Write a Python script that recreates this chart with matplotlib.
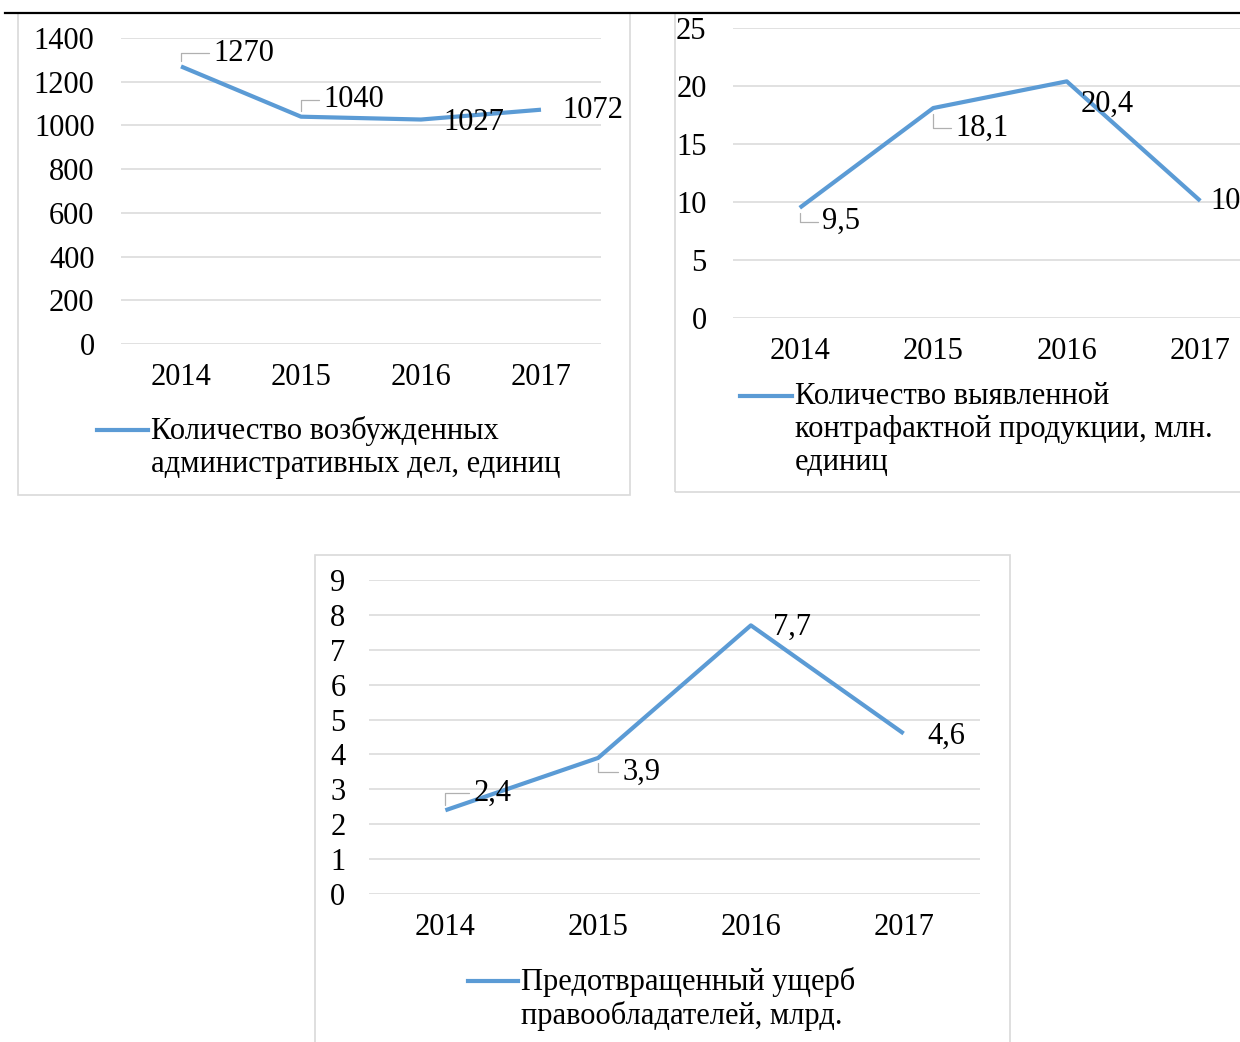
import matplotlib
matplotlib.use("Agg")
import matplotlib.pyplot as plt
from matplotlib.lines import Line2D
from matplotlib.patches import Rectangle

plt.rcParams['font.family'] = ['Liberation Serif', 'DejaVu Serif']

years = ["2014", "2015", "2016", "2017"]
cases = [1270, 1040, 1027, 1072]
cases_labels = ["1270", "1040", "1027", "1072"]
counterfeit = [9.5, 18.1, 20.4, 10.1]
counterfeit_labels = ["9,5", "18,1", "20,4", "10,1"]
damage = [2.4, 3.9, 7.7, 4.6]
damage_labels = ["2,4", "3,9", "7,7", "4,6"]

legend1 = "Количество возбужденных\nадминистративных дел, единиц"
legend2 = "Количество выявленной\nконтрафактной продукции, млн.\nединиц"
legend3 = "Предотвращенный ущерб\nправообладателей, млрд."

W, H = 1240, 1042
LINE_COLOR = "#5B9BD5"
GRID_COLOR = "#D9D9D9"
FS = 22

fig = plt.figure(figsize=(W / 100, H / 100), dpi=100)
fig.patch.set_facecolor("white")


def fx(x):
    return x / W


def fy(y):
    return 1 - y / H


def make_axes(x0, x1, ytop, ybot):
    return fig.add_axes([fx(x0), fy(ybot), fx(x1) - fx(x0), (ybot - ytop) / H])


def frame(x0, y0, x1, y1):
    fig.add_artist(Rectangle((fx(x0), fy(y1)), fx(x1) - fx(x0), (y1 - y0) / H,
                             transform=fig.transFigure, fill=False,
                             edgecolor=GRID_COLOR, lw=1.2, zorder=0))


def style(ax, ymax, step, ypad, xpad):
    ax.set_xlim(-0.5, len(years) - 0.5)
    ax.set_ylim(0, ymax)
    ax.set_yticks([i * step for i in range(int(round(ymax / step)) + 1)])
    ax.set_xticks(range(len(years)))
    ax.set_xticklabels(years)
    ax.yaxis.grid(True, color=GRID_COLOR, lw=1.1)
    ax.set_axisbelow(True)
    for s in ax.spines.values():
        s.set_visible(False)
    ax.tick_params(axis="both", length=0, labelsize=FS)
    ax.tick_params(axis="y", pad=ypad)
    ax.tick_params(axis="x", pad=xpad)
    ax.patch.set_alpha(0)


def labels(ax, vals, texts, offsets, leaders):
    for i, (v, t, off, ld) in enumerate(zip(vals, texts, offsets, leaders)):
        kw = {}
        if ld:
            kw["arrowprops"] = dict(arrowstyle="-", color="#B0B0B0", lw=0.9,
                                    shrinkA=1, shrinkB=4, relpos=(0, 0.5),
                                    connectionstyle="angle,angleA=0,angleB=90,rad=0")
        ax.annotate(t, xy=(i, v), xytext=off, textcoords="offset pixels",
                    ha="left", va="center", fontsize=FS, annotation_clip=False, **kw)


def legend(x_line0, x_line1, y, text, linespacing):
    fig.add_artist(Line2D([fx(x_line0), fx(x_line1)], [fy(y), fy(y)],
                          transform=fig.transFigure, color=LINE_COLOR, lw=3))
    fig.text(fx(x_line1 + 3), fy(y - 14), text, ha="left", va="top",
             fontsize=FS, linespacing=linespacing)


# top black rule
fig.add_artist(Line2D([fx(5), fx(1240)], [fy(13), fy(13)], transform=fig.transFigure,
                      color="black", lw=1.6))

# panel frames
frame(18, 13, 630, 495)
frame(675, 13, 1260, 492)
frame(315, 555, 1010, 1060)

# Panel 1
ax1 = make_axes(121, 601, 38, 344)
style(ax1, 1400, 200, 19, 14)
ax1.plot(range(4), cases, color=LINE_COLOR, lw=3, clip_on=False, solid_capstyle="butt")
labels(ax1, cases, cases_labels,
       [(32, 13), (22, 17), (22, -3), (21, -1)],
       [True, True, False, False])
legend(97, 148, 430, legend1, 1.18)

# Panel 2
ax2 = make_axes(733, 1267, 28, 318)
style(ax2, 25, 5, 19, 14)
ax2.plot(range(4), counterfeit, color=LINE_COLOR, lw=3, clip_on=False, solid_capstyle="butt")
labels(ax2, counterfeit, counterfeit_labels,
       [(22, -14), (22, -20), (14, -23), (10, 0)],
       [True, True, False, False])
legend(740, 792, 396, legend2, 1.18)

# Panel 3
ax3 = make_axes(369, 980, 580, 894)
style(ax3, 9, 1, 17, 14)
ax3.plot(range(4), damage, color=LINE_COLOR, lw=3, clip_on=False, solid_capstyle="butt")
labels(ax3, damage, damage_labels,
       [(28, 17), (24, -14), (22, -2), (24, -3)],
       [True, True, False, False])
legend(468, 518, 981, legend3, 1.18)

fig.savefig("out.png", dpi=100, facecolor="white")
